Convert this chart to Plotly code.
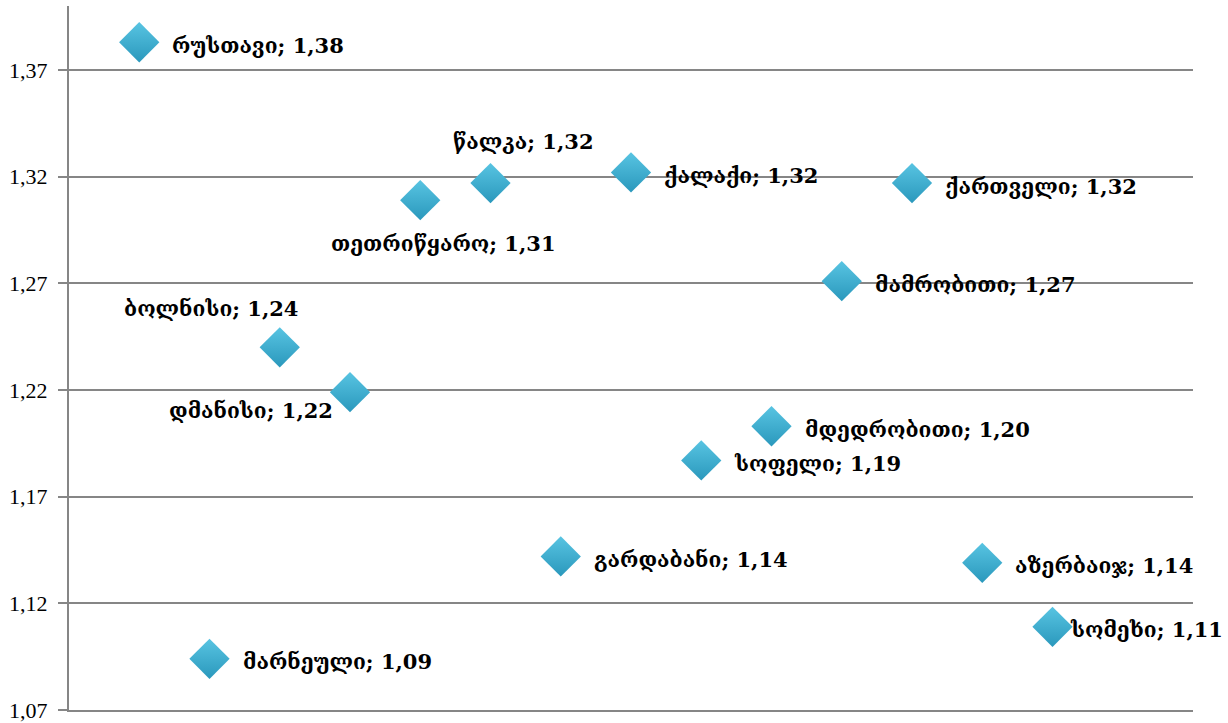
import plotly.graph_objects as go

names = ["რუსთავი", "მარნეული", "ბოლნისი", "დმანისი", "თეთრიწყარო", "წალკა",
         "გარდაბანი", "ქალაქი", "სოფელი", "მდედრობითი", "მამრობითი", "ქართველი",
         "აზერბაიჯ", "სომეხი"]
x_vals = [1, 2, 3, 4, 5, 6, 7, 8, 9, 10, 11, 12, 13, 14]
y_vals = [1.383, 1.094, 1.240, 1.219, 1.309, 1.317, 1.142, 1.322, 1.187, 1.203,
          1.271, 1.317, 1.139, 1.109]
# label placement relative to the point (pixel shifts) and anchor
label_pos = {
    2: (-69, 39, "center"),
    3: (-99, -18, "center"),
    4: (23, -43, "center"),
    5: (33, 42, "center"),
}
y_ticks = [1.07, 1.12, 1.17, 1.22, 1.27, 1.32, 1.37]

GRAY = "#868686"
FONT = "DejaVu Serif"

fig = go.Figure()
fig.add_trace(go.Scatter(
    x=x_vals, y=y_vals, mode="markers",
    marker=dict(symbol="diamond", size=31, color="#58C4E2",
                gradient=dict(type="vertical", color="#2A98BC"),
                line=dict(width=0)),
    showlegend=False, hoverinfo="skip"))

for i, (n, xv, yv) in enumerate(zip(names, x_vals, y_vals)):
    txt = f"{n}; {yv:.2f}".replace(".", ",")
    if i in label_pos:
        dx, dy, anc = label_pos[i]
        fig.add_annotation(x=xv, y=yv, text=txt, showarrow=False, xanchor=anc,
                           xshift=dx, yshift=dy,
                           font=dict(family=FONT, size=21, color="black", weight="bold"))
    else:
        fig.add_annotation(x=xv, y=yv, text=txt, showarrow=False, xanchor="left",
                           xshift=31 if i != 13 else 15, yshift=-3,
                           font=dict(family=FONT, size=21, color="black", weight="bold"))

fig.update_layout(
    width=1228, height=723,
    margin=dict(l=69, r=35, t=6, b=13),
    paper_bgcolor="white", plot_bgcolor="white",
    separators=",.",
    xaxis=dict(range=[0, 16], showgrid=False, zeroline=False, showticklabels=False,
               ticks="", showline=True, linecolor=GRAY, linewidth=2, automargin=False),
    yaxis=dict(range=[1.07, 1.40], tickvals=y_ticks, tickformat=".2f",
               showgrid=True, gridcolor=GRAY, gridwidth=2, zeroline=False,
               showline=True, linecolor=GRAY, linewidth=2, automargin=False,
               ticks="outside", ticklen=9, tickcolor=GRAY, tickwidth=2,
               ticklabelstandoff=6,
               tickfont=dict(family="Liberation Serif", size=22, color="black")),
)

fig.write_html("out.html", config={"displayModeBar": False},
               post_script="document.body.style.margin='0';document.body.style.overflow='hidden';")
